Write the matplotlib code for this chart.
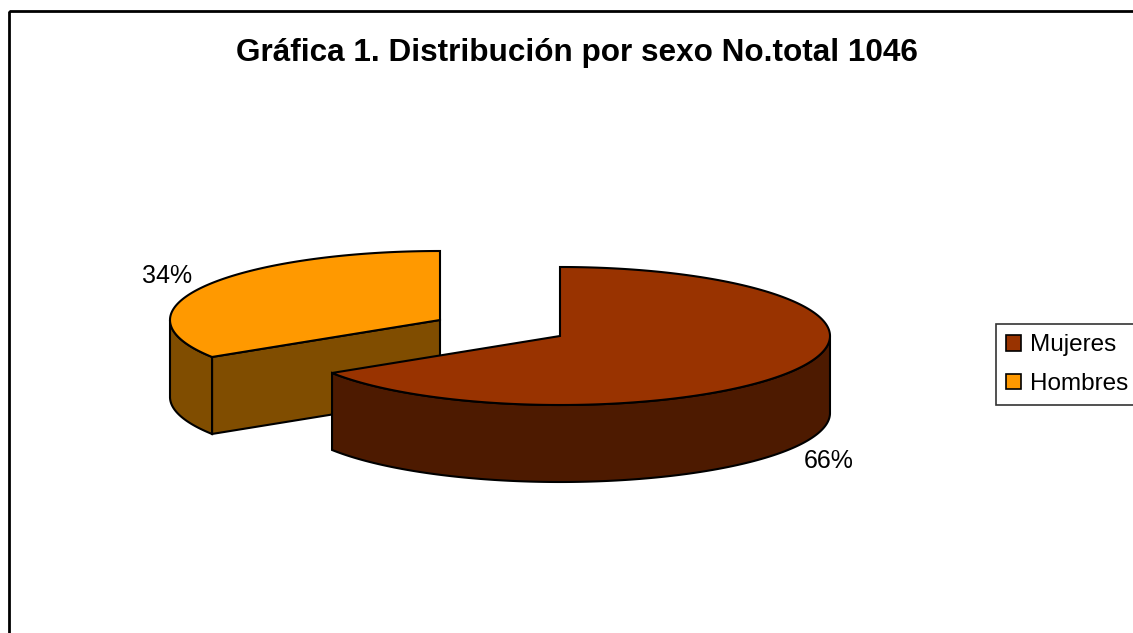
import numpy as np
import matplotlib
matplotlib.use('Agg')
import matplotlib.pyplot as plt
from matplotlib.patches import Polygon, Patch, Rectangle

plt.rcParams['font.family'] = ['Liberation Sans', 'DejaVu Sans']

# Data
labels = ['Mujeres', 'Hombres']
values = [66, 34]
pct_labels = ['66%', '34%']
top_colors = ['#993300', '#FF9900']
side_colors = ['#4D1A00', '#804D00']
title = 'Gráfica 1. Distribución por sexo No.total 1046'

# layout of the fake 3D pie (pixel space)
centers = [(560, 336), (440, 320)]   # Hombres slice is exploded
label_pos = [(829, 468), (167, 283)]
rx, ry, depth = 270, 69, 77

fig = plt.figure(figsize=(11.33, 6.33), dpi=100)
ax = fig.add_axes([0, 0, 1, 1])
ax.set_xlim(0, 1133)
ax.set_ylim(633, 0)
ax.axis('off')

# chart area border
ax.add_patch(Rectangle((9, 11), 1200, 700, fill=False, edgecolor='black', lw=2))


def pt(c, t, dz=0):
    return c[0] + rx * np.cos(t), c[1] - ry * np.sin(t) + dz


total = sum(values)
start = 90.0
slices = []
for i, v in enumerate(values):
    end = start - 360.0 * v / total
    slices.append((start, end))
    start = end

# draw the exploded slice first so the big one overlaps it
for i in [1, 0]:
    s, e = slices[i]
    c = centers[i]
    sr, er = np.radians(s), np.radians(e)

    # radial faces (only the ones turned to the front)
    if np.cos(sr) < -1e-6:
        p1 = pt(c, sr)
        face = [c, p1, (p1[0], p1[1] + depth), (c[0], c[1] + depth)]
        ax.add_patch(Polygon(face, closed=True, fc=side_colors[i], ec='black', lw=1.5))
    if np.cos(er) > 1e-6:
        p1 = pt(c, er)
        face = [c, p1, (p1[0], p1[1] + depth), (c[0], c[1] + depth)]
        ax.add_patch(Polygon(face, closed=True, fc=side_colors[i], ec='black', lw=1.5))

    # outer wall on the front half
    t = np.linspace(er, sr, 400)
    t = t[np.sin(t) <= 0]
    if len(t) > 1:
        x, y = pt(c, t)
        wall = np.vstack([np.column_stack([x, y]),
                          np.column_stack([x[::-1], y[::-1] + depth])])
        ax.add_patch(Polygon(wall, closed=True, fc=side_colors[i], ec='black', lw=1.5))

    # top face
    t = np.linspace(sr, er, 400)
    x, y = pt(c, t)
    top = np.vstack([[c], np.column_stack([x, y])])
    ax.add_patch(Polygon(top, closed=True, fc=top_colors[i], ec='black', lw=1.5))

for lab, (lx, ly) in zip(pct_labels, label_pos):
    ax.text(lx, ly, lab, ha='center', va='baseline', fontsize=18)

ax.text(577, 61, title, ha='center', va='baseline', fontsize=22.7, weight='bold')

handles = [Patch(fc=top_colors[i], ec='black', lw=1.2) for i in range(len(labels))]
leg = ax.legend(handles, labels, loc='upper left',
                bbox_to_anchor=(996 / 1133, 1 - 324 / 633), borderaxespad=0,
                fontsize=17.5, frameon=True, fancybox=False, shadow=False,
                handlelength=0.6, handleheight=0.6, handletextpad=0.35,
                labelspacing=0.68, borderpad=0.43)
leg.get_frame().set_edgecolor('black')
leg.get_frame().set_linewidth(1.2)

fig.savefig('out.png', dpi=100, facecolor='white')
